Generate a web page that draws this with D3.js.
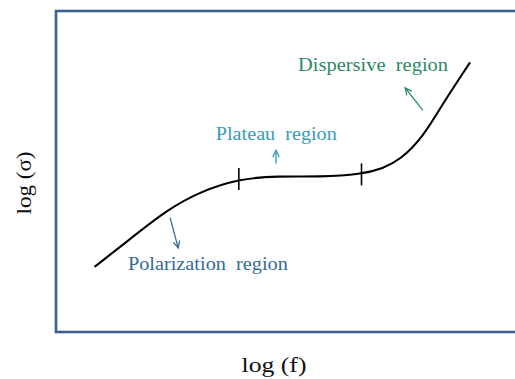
<!DOCTYPE html>
<html>
<head>
<meta charset="utf-8">
<script src="https://cdn.jsdelivr.net/npm/d3@7"></script>
<style>
  html, body { margin: 0; padding: 0; background: #fff; }
  svg { display: block; font-family: "Liberation Serif", "DejaVu Serif", serif; }
</style>
</head>
<body>
<svg id="chart" width="515" height="379"></svg>
<script>
// Schematic conductivity spectrum: log(sigma) against log(f), arbitrary units
const logF =     [0.82, 1.64, 2.36, 3.06, 3.89, 4.70, 5.62, 6.50, 6.96, 7.32, 7.81, 8.23, 8.81];
const logSigma = [2.03, 2.97, 3.80, 4.37, 4.77, 4.86, 4.83, 4.91, 5.10, 5.36, 6.07, 7.12, 8.40];

// Boundaries between regions (log f)
const boundaries = [3.89, 6.50];

// Region labels and arrows (arrow from -> to, in data units)
const regionNames = ["Dispersive  region", "Plateau  region", "Polarization  region"];
const labelPos = [[5.15, 8.13], [3.40, 5.98], [1.53, 1.93]];
const arrowFrom = [[7.80, 6.92], [4.68, 5.26], [2.43, 3.55]];
const arrowTo = [[7.43, 7.60], [4.68, 5.66], [2.60, 2.62]];
const regionColors = ["#2a8a64", "#359cbc", "#336c9a"];
const labelWidths = [150, 121, 160];

const xLabel = "log (f)";
const yLabel = "log (\u03c3)";

const svg = d3.select("#chart");
const frame = { left: 56, top: 11, right: 526, bottom: 332 };

const x = d3.scaleLinear().domain([0, 10]).range([frame.left, frame.right]);
const y = d3.scaleLinear().domain([0, 10]).range([frame.bottom, frame.top]);

// Frame around the plotting area
svg.append("rect")
  .attr("x", frame.left).attr("y", frame.top)
  .attr("width", frame.right - frame.left).attr("height", frame.bottom - frame.top)
  .attr("fill", "none").attr("stroke", "#3d6092").attr("stroke-width", 2.6);

// Smooth curve through the spectrum
const pts = logF.map((f, i) => [f, logSigma[i]]);
const curve = d3.line().x(d => x(d[0])).y(d => y(d[1])).curve(d3.curveBasis);
svg.append("path")
  .attr("d", curve(pts))
  .attr("fill", "none").attr("stroke", "#000").attr("stroke-width", 2.1);

// Boundary ticks placed on the curve
const interp = d3.scaleLinear().domain(logF).range(logSigma);
boundaries.forEach(b => {
  const cy = y(interp(b));
  svg.append("line")
    .attr("x1", x(b)).attr("x2", x(b))
    .attr("y1", cy - 11).attr("y2", cy + 11)
    .attr("stroke", "#000").attr("stroke-width", 1.6);
});

// Arrows with open heads, and region labels
regionNames.forEach((name, i) => {
  const x1 = x(arrowFrom[i][0]), y1 = y(arrowFrom[i][1]);
  const x2 = x(arrowTo[i][0]), y2 = y(arrowTo[i][1]);
  const ang = Math.atan2(y2 - y1, x2 - x1);
  const h = 7, spread = 0.45;
  const g = svg.append("g").attr("stroke", regionColors[i]).attr("stroke-width", 1.3)
    .attr("fill", "none").attr("stroke-linecap", "round");
  g.append("line").attr("x1", x1).attr("y1", y1).attr("x2", x2).attr("y2", y2);
  g.append("path").attr("d",
    `M${x2 - h * Math.cos(ang - spread)},${y2 - h * Math.sin(ang - spread)}` +
    `L${x2},${y2}` +
    `L${x2 - h * Math.cos(ang + spread)},${y2 - h * Math.sin(ang + spread)}`);

  svg.append("text")
    .attr("x", x(labelPos[i][0])).attr("y", y(labelPos[i][1]))
    .attr("fill", regionColors[i])
    .attr("font-size", 19)
    .attr("textLength", labelWidths[i])
    .attr("lengthAdjust", "spacingAndGlyphs")
    .style("white-space", "pre")
    .text(name);
});

// Axis titles
svg.append("text")
  .attr("x", 274).attr("y", 372)
  .attr("text-anchor", "middle")
  .attr("font-size", 21)
  .attr("textLength", 65).attr("lengthAdjust", "spacingAndGlyphs")
  .attr("fill", "#111")
  .text(xLabel);

svg.append("text")
  .attr("transform", "translate(31,183) rotate(-90)")
  .attr("text-anchor", "middle")
  .attr("font-size", 21)
  .attr("textLength", 63).attr("lengthAdjust", "spacingAndGlyphs")
  .attr("fill", "#111")
  .text(yLabel);
</script>
</body>
</html>
